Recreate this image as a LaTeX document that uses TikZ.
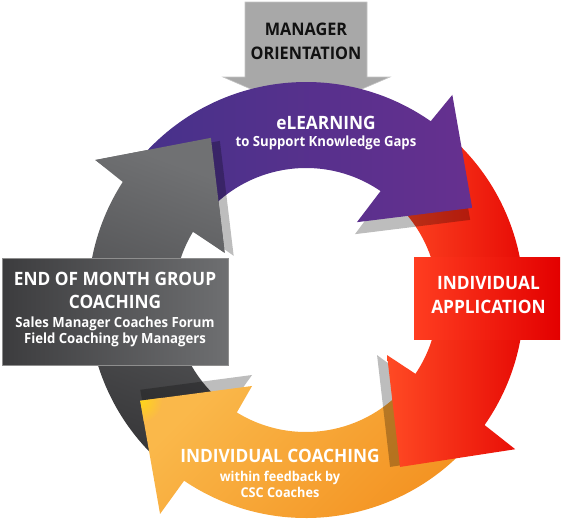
\documentclass[tikz,border=0pt]{standalone}
\usepackage{fontspec}
\setmainfont{Open Sans}[FakeStretch=0.94]
\definecolor{mgrgray}{HTML}{A8A8A8}
\definecolor{mgredge}{HTML}{C4C4C4}
\definecolor{purpL}{HTML}{46318A}
\definecolor{purpR}{HTML}{66308F}
\definecolor{redL}{HTML}{FF4A24}
\definecolor{redR}{HTML}{E30000}
\definecolor{oraT}{HTML}{FAB84A}
\definecolor{oraB}{HTML}{F3901F}
\definecolor{oraTip}{HTML}{FFD618}
\definecolor{gryT}{HTML}{707173}
\definecolor{gryB}{HTML}{363638}
\definecolor{gboxL}{HTML}{3C3C3E}
\definecolor{gboxR}{HTML}{6E6F71}
\definecolor{gboxEdge}{HTML}{8E8E8E}
\definecolor{rboxL}{HTML}{FF3D20}
\definecolor{rboxR}{HTML}{E30000}
\definecolor{txtdark}{HTML}{111111}
\begin{document}
\begin{tikzpicture}[x=1pt,y=1pt,
  lblbig/.style={text=white, font=\bfseries\fontsize{18.4}{20}\selectfont, inner sep=0pt, anchor=base},
  lblsmall/.style={text=white, font=\bfseries\fontsize{14}{16}\selectfont, inner sep=0pt, anchor=base},
  lblorange/.style={text=white, font=\bfseries\fontsize{13.5}{15}\selectfont, inner sep=0pt, anchor=base},
  lblmgr/.style={text=txtdark, font=\bfseries\fontsize{17.3}{19}\selectfont, inner sep=0pt, anchor=base},
  headshadow/.style={fill=black, opacity=0.26},
  grayshade/.style={top color=gryT, bottom color=gryB, shading angle=-20},
  purpleshade/.style={left color=purpL, right color=purpR},
  redshade/.style={left color=redL, right color=redR},
  orangeshade/.style={top color=oraT, bottom color=oraB, shading angle=45},
]
\useasboundingbox (0,0) rectangle (562,-525);

% Manager orientation arrow
\filldraw[fill=mgrgray, draw=mgredge, line width=0.6]
  (245,-2) -- (367,-2) -- (367,-77) -- (390,-77) -- (306,-113) -- (223,-77) -- (245,-77) -- cycle;

\begin{scope}[shift={(306,-300)}]
  \def\pGray{(231:218) arc[start angle=231, end angle=147.2, radius=218] -- (146.4:253) -- (120.4:188) -- (149.9:94) -- (148.9:132) arc[start angle=148.9, end angle=231, radius=132] -- cycle}
  \def\hGray{(146.4:253) -- (120.4:188) -- (149.9:94) -- cycle}
  \def\pPurple{(142:218) arc[start angle=142, end angle=55.1, radius=218] -- (54.5:252) -- (29:190) -- (56.8:93) -- (55.6:132) arc[start angle=55.6, end angle=142, radius=132] -- cycle}
  \def\hPurple{(54.5:252) -- (29:190) -- (56.8:93) -- cycle}
  \def\pRed{(50:218) arc[start angle=50, end angle=-35, radius=218] -- (-35.5:257) -- (-60.6:191.6) -- (-34.2:98) -- (-34:132) arc[start angle=-34, end angle=50, radius=132] -- cycle}
  \def\hRed{(-35.5:257) -- (-60.6:191.6) -- (-34.2:98) -- cycle}
  \def\pOrange{(-40:218) arc[start angle=-40, end angle=-124, radius=218] -- (-124.3:259) -- (-148.7:194) -- (-122.1:101.5) -- (-121.6:132) arc[start angle=-121.6, end angle=-40, radius=132] -- cycle}
  \def\hOrange{(-124.3:259) -- (-148.7:194) -- (-122.1:101.5) -- cycle}

  % gray arrow (left)
  \shade[grayshade] \pGray;
  % orange arrow (bottom) with head shadow on gray
  \fill[headshadow, shift={(0,11)}] \hOrange;
  \shade[orangeshade] \pOrange;
  \begin{scope}
    \clip \pOrange;
    \shade[inner color=oraTip, outer color=oraT] (-148.7:194) circle (22);
  \end{scope}
  % red arrow (right)
  \fill[headshadow, shift={(-10,0)}] \hRed;
  \shade[redshade] \pRed;
  % purple arrow (top)
  \fill[headshadow, shift={(-2,-12)}] \hPurple;
  \shade[purpleshade] \pPurple;
  % gray head again, over the purple tail
  \fill[headshadow, shift={(9,-3)}] \hGray;
  \begin{scope}
    \clip \hGray;
    \shade[grayshade] \pGray;
  \end{scope}
\end{scope}

% boxes
\shadedraw[left color=gboxL, right color=gboxR, draw=gboxEdge, line width=0.8] (2,-258) rectangle (228,-365);
\shade[left color=rboxL, right color=rboxR] (414,-257) rectangle (560,-339);

% texts
\node[lblmgr] (mgr1) at (306,-35) {MANAGER};
\node[lblmgr] (mgr2) at (306,-59) {ORIENTATION};

\node[lblbig] (el1) at (326,-129.7) {eLEARNING};
\node[lblsmall] (el2) at (326,-146) {to Support Knowledge Gaps};

\node[lblbig] (eom1) at (115,-285.6) {END OF MONTH GROUP};
\node[lblbig] (eom2) at (115,-308.6) {COACHING};
\node[lblsmall] (eom3) at (115,-327) {Sales Manager Coaches Forum};
\node[lblsmall] (eom4) at (115,-343) {Field Coaching by Managers};

\node[lblbig] (ia1) at (488.5,-289.3) {INDIVIDUAL};
\node[lblbig] (ia2) at (488.5,-313.3) {APPLICATION};

\node[lblbig] (ic1) at (280,-462.6) {INDIVIDUAL COACHING};
\node[lblorange] (ic2) at (280,-481) {within feedback by};
\node[lblorange] (ic3) at (280,-497) {CSC Coaches};
\end{tikzpicture}
\end{document}
